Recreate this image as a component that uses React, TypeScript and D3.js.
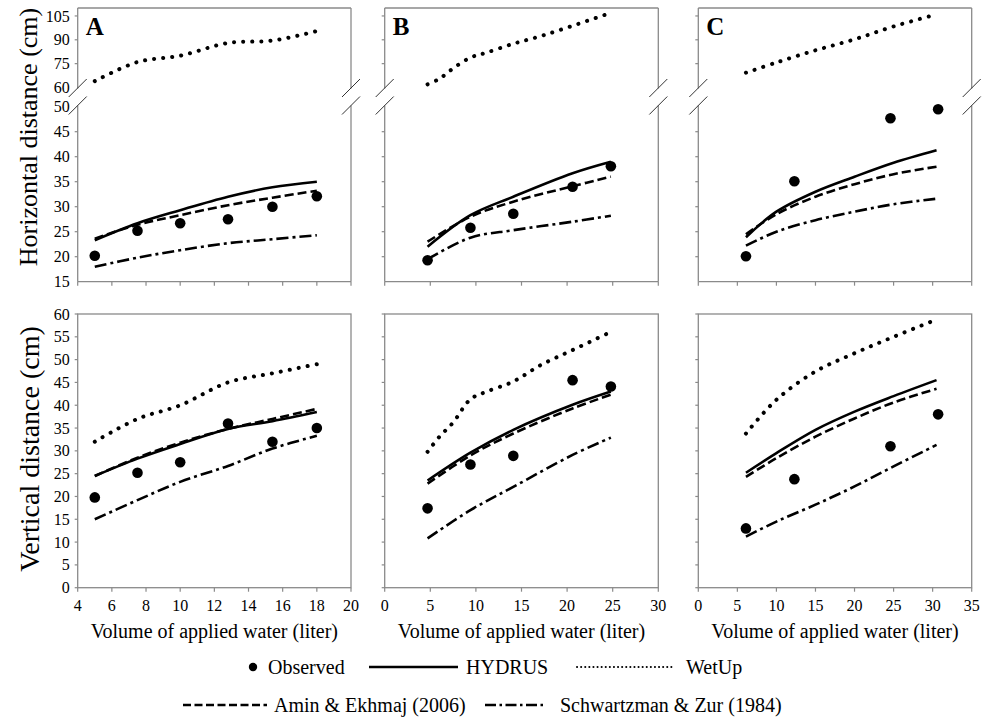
import React from "react";
import * as d3 from "d3";

// values (cm vs litres)
const volA = [5, 7.5, 10, 12.8, 15.4, 18];
const horizObservedA = [20.2, 25.2, 26.7, 27.5, 30, 32.1];
const horizHydrusA = [23.3, 26.7, 29.3, 32, 33.9, 35];
const horizAminA = [23.6, 26.4, 28.3, 30.3, 31.8, 33.2];
const horizSchwartzA = [18, 19.8, 21.3, 22.7, 23.5, 24.3];
const horizWetUpA = [64, 76, 80, 88, 89.5, 95.5];
const vertObservedA = [19.8, 25.2, 27.5, 36, 32, 35];
const vertHydrusA = [24.5, 28.3, 31.5, 34.8, 36.5, 38.5];
const vertAminA = [24.5, 28.5, 31.8, 34.8, 37, 39.2];
const vertSchwartzA = [15, 19.2, 23.2, 26.7, 30.5, 33.3];
const vertWetUpA = [32, 37, 40, 45, 47, 49];

const volB = [4.7, 9.4, 14.1, 20.6, 24.8];
const volWetUpB = [4.7, 6, 7.5, 9.4, 11.2, 14.1, 17.1, 20.6, 24.3];
const horizObservedB = [19.3, 25.8, 28.6, 34, 38.1];
const horizHydrusB = [22, 28.3, 32, 36.7, 39];
const horizAminB = [23, 28, 31, 34.1, 36];
const horizSchwartzB = [19.5, 23.8, 25.3, 27, 28.2];
const horizWetUpB = [62, 65.5, 72, 78.8, 82, 87.5, 92.3, 98.8, 106];
const vertObservedB = [17.4, 27, 28.9, 45.5, 44.1];
const vertHydrusB = [23.5, 29.6, 34.6, 40.1, 43];
const vertAminB = [22.8, 29, 33.8, 39.3, 42.3];
const vertSchwartzB = [10.8, 17, 22.1, 29.1, 32.9];
const vertWetUpB = [29.8, 33.1, 36.2, 41.3, 43, 45.2, 48.8, 52.1, 55.6];

const volObsC = [6.1, 12.3, 24.6, 30.7];
const volModelC = [6.1, 10, 15, 20, 25, 30.5];
const horizObservedC = [20.1, 35.1, 47.7, 49.5];
const horizHydrusC = [23.9, 29, 33, 36, 38.8, 41.3];
const horizAminC = [24.5, 28.5, 32, 34.5, 36.5, 38];
const horizSchwartzC = [22.2, 25, 27.3, 29, 30.5, 31.6];
const horizWetUpC = [69.3, 75.7, 83.4, 90.3, 98.4, 106];
const vertObservedC = [13, 23.8, 31, 38];
const vertHydrusC = [25.2, 29.5, 34.6, 38.6, 42, 45.5];
const vertAminC = [24.3, 28.4, 33.1, 37.1, 40.6, 43.6];
const vertSchwartzC = [11.2, 14.5, 18.2, 22.2, 26.6, 31.3];
const vertWetUpC = [33.8, 41.2, 47.4, 51.4, 55, 58.8];

const upperTicks = [60, 75, 90, 105];
const lowerTicks = [15, 20, 25, 30, 35, 40, 45, 50];
const vertTicks = d3.range(0, 61, 5);

const FONT = "Liberation Serif, Times New Roman, serif";
const FRAME = "#8a8a8a";

const styles = {
  hydrus: { strokeDasharray: "none", strokeWidth: 2.6, strokeLinecap: "butt" },
  amin: { strokeDasharray: "9,4", strokeWidth: 2.6, strokeLinecap: "butt" },
  schwartz: { strokeDasharray: "12,4,3,4", strokeWidth: 2.6, strokeLinecap: "butt" },
  wetup: { strokeDasharray: "0.1,9", strokeWidth: 4, strokeLinecap: "round" },
};

type Series = { xs: number[]; ys: number[]; kind: keyof typeof styles; upper?: boolean };

const panels = [
  {
    letter: "A", x0: 77.7, x1: 351, domain: [4, 20], xticks: d3.range(4, 21, 2),
    obsX: volA, horizObs: horizObservedA, vertObs: vertObservedA,
    horiz: [
      { xs: volA, ys: horizHydrusA, kind: "hydrus" },
      { xs: volA, ys: horizAminA, kind: "amin" },
      { xs: volA, ys: horizSchwartzA, kind: "schwartz" },
      { xs: volA, ys: horizWetUpA, kind: "wetup", upper: true },
    ] as Series[],
    vert: [
      { xs: volA, ys: vertHydrusA, kind: "hydrus" },
      { xs: volA, ys: vertAminA, kind: "amin" },
      { xs: volA, ys: vertSchwartzA, kind: "schwartz" },
      { xs: volA, ys: vertWetUpA, kind: "wetup" },
    ] as Series[],
  },
  {
    letter: "B", x0: 384.7, x1: 658.3, domain: [0, 30], xticks: d3.range(0, 31, 5),
    obsX: volB, horizObs: horizObservedB, vertObs: vertObservedB,
    horiz: [
      { xs: volB, ys: horizHydrusB, kind: "hydrus" },
      { xs: volB, ys: horizAminB, kind: "amin" },
      { xs: volB, ys: horizSchwartzB, kind: "schwartz" },
      { xs: volWetUpB, ys: horizWetUpB, kind: "wetup", upper: true },
    ] as Series[],
    vert: [
      { xs: volB, ys: vertHydrusB, kind: "hydrus" },
      { xs: volB, ys: vertAminB, kind: "amin" },
      { xs: volB, ys: vertSchwartzB, kind: "schwartz" },
      { xs: volWetUpB, ys: vertWetUpB, kind: "wetup" },
    ] as Series[],
  },
  {
    letter: "C", x0: 698.3, x1: 971.7, domain: [0, 35], xticks: d3.range(0, 36, 5),
    obsX: volObsC, horizObs: horizObservedC, vertObs: vertObservedC,
    horiz: [
      { xs: volModelC, ys: horizHydrusC, kind: "hydrus" },
      { xs: volModelC, ys: horizAminC, kind: "amin" },
      { xs: volModelC, ys: horizSchwartzC, kind: "schwartz" },
      { xs: volModelC, ys: horizWetUpC, kind: "wetup", upper: true },
    ] as Series[],
    vert: [
      { xs: volModelC, ys: vertHydrusC, kind: "hydrus" },
      { xs: volModelC, ys: vertAminC, kind: "amin" },
      { xs: volModelC, ys: vertSchwartzC, kind: "schwartz" },
      { xs: volModelC, ys: vertWetUpC, kind: "wetup" },
    ] as Series[],
  },
];

// vertical layout
const TOP = 8, BREAK_UP = 87.5, BREAK_LOW = 106.7, TOP_BOTTOM = 281.7;
const BOT_TOP = 314, BOT_BOTTOM = 587.7;

const yUpper = d3.scaleLinear().domain([60, 110]).range([BREAK_UP, TOP]);
const yLower = d3.scaleLinear().domain([15, 50]).range([TOP_BOTTOM, BREAK_LOW]);
const yVert = d3.scaleLinear().domain([0, 60]).range([BOT_BOTTOM, BOT_TOP]);

const curvePath = (s: Series, x: d3.ScaleLinear<number, number>, y: d3.ScaleLinear<number, number>) =>
  d3.line<number>()
    .x((_, i) => x(s.xs[i]))
    .y((d) => y(d))
    .curve(d3.curveCatmullRom.alpha(0.5))(s.ys) || "";

const SeriesPath = ({ s, x, y }: { s: Series; x: any; y: any }) => {
  const st = styles[s.kind];
  return (
    <path d={curvePath(s, x, y)} fill="none" stroke="#000"
      strokeWidth={st.strokeWidth} strokeDasharray={st.strokeDasharray}
      strokeLinecap={st.strokeLinecap as any} strokeLinejoin="round" />
  );
};

const Slash = ({ cx, cy }: { cx: number; cy: number }) => (
  <line x1={cx - 9} y1={cy + 9} x2={cx + 9} y2={cy - 9} stroke="#333" strokeWidth={1} />
);

const TopPanel = ({ p, labels }: { p: typeof panels[0]; labels: boolean }) => {
  const x = d3.scaleLinear().domain(p.domain).range([p.x0, p.x1]);
  const gapTop = 88.5, gapBot = 105.5;
  return (
    <g>
      <line x1={p.x0} x2={p.x1} y1={TOP} y2={TOP} stroke={FRAME} strokeWidth={1.3} />
      <line x1={p.x0} x2={p.x1} y1={TOP_BOTTOM} y2={TOP_BOTTOM} stroke={FRAME} strokeWidth={1.3} />
      {[p.x0, p.x1].map((xx) => (
        <g key={xx}>
          <line x1={xx} x2={xx} y1={TOP} y2={gapTop} stroke={FRAME} strokeWidth={1.3} />
          <line x1={xx} x2={xx} y1={gapBot} y2={TOP_BOTTOM} stroke={FRAME} strokeWidth={1.3} />
          <Slash cx={xx} cy={88} />
          <Slash cx={xx} cy={105.5} />
        </g>
      ))}
      {upperTicks.filter((t) => t > 60).map((t) => (
        <line key={"u" + t} x1={p.x0 - 3} x2={p.x0} y1={yUpper(t)} y2={yUpper(t)} stroke={FRAME} strokeWidth={1.2} />
      ))}
      {lowerTicks.filter((t) => t > 15 && t < 50).map((t) => (
        <line key={"l" + t} x1={p.x0 - 3} x2={p.x0} y1={yLower(t)} y2={yLower(t)} stroke={FRAME} strokeWidth={1.2} />
      ))}
      {p.xticks.map((t) => (
        <line key={"x" + t} x1={x(t)} x2={x(t)} y1={TOP_BOTTOM} y2={TOP_BOTTOM + 4} stroke={FRAME} strokeWidth={1.2} />
      ))}
      {labels && (
        <g fontFamily={FONT} fontSize={16} textAnchor="end">
          {upperTicks.map((t) => (
            <text key={"ut" + t} x={p.x0 - 8} y={yUpper(t)} dy="0.35em">{t}</text>
          ))}
          {lowerTicks.map((t) => (
            <text key={"lt" + t} x={p.x0 - 8} y={yLower(t)} dy="0.35em">{t}</text>
          ))}
        </g>
      )}
      {p.horiz.map((s, i) => (
        <SeriesPath key={i} s={s} x={x} y={s.upper ? yUpper : yLower} />
      ))}
      {p.obsX.map((v, i) => (
        <circle key={"o" + i} cx={x(v)} cy={yLower(p.horizObs[i])} r={5.3} fill="#000" />
      ))}
      <text x={p.x0 + 8} y={35} fontFamily={FONT} fontSize={25} fontWeight="bold">{p.letter}</text>
    </g>
  );
};

const BottomPanel = ({ p, labels }: { p: typeof panels[0]; labels: boolean }) => {
  const x = d3.scaleLinear().domain(p.domain).range([p.x0, p.x1]);
  return (
    <g>
      <rect x={p.x0} y={BOT_TOP} width={p.x1 - p.x0} height={BOT_BOTTOM - BOT_TOP}
        fill="none" stroke={FRAME} strokeWidth={1.3} />
      {vertTicks.map((t) => (
        <line key={"v" + t} x1={p.x0 - 3} x2={p.x0} y1={yVert(t)} y2={yVert(t)} stroke={FRAME} strokeWidth={1.2} />
      ))}
      {p.xticks.map((t) => (
        <line key={"x" + t} x1={x(t)} x2={x(t)} y1={BOT_BOTTOM} y2={BOT_BOTTOM + 4} stroke={FRAME} strokeWidth={1.2} />
      ))}
      <g fontFamily={FONT} fontSize={16}>
        {labels && vertTicks.map((t) => (
          <text key={"vt" + t} x={p.x0 - 8} y={yVert(t)} dy="0.35em" textAnchor="end">{t}</text>
        ))}
        {p.xticks.map((t) => (
          <text key={"xt" + t} x={x(t)} y={611} textAnchor="middle">{t}</text>
        ))}
      </g>
      {p.vert.map((s, i) => (
        <SeriesPath key={i} s={s} x={x} y={yVert} />
      ))}
      {p.obsX.map((v, i) => (
        <circle key={"o" + i} cx={x(v)} cy={yVert(p.vertObs[i])} r={5.3} fill="#000" />
      ))}
      <text x={(p.x0 + p.x1) / 2} y={638} textAnchor="middle" fontFamily={FONT} fontSize={20}>
        Volume of applied water (liter)
      </text>
    </g>
  );
};

const LegendLine = ({ x1, x2, y, kind }: { x1: number; x2: number; y: number; kind: keyof typeof styles }) => {
  const st = styles[kind];
  const dash = kind === "wetup" ? "0.1,4" : kind === "schwartz" ? "11,3.5,2.5,3.5" : kind === "amin" ? "8,3.5" : "none";
  const w = kind === "wetup" ? 2 : 2.5;
  return (
    <line x1={x1} x2={x2} y1={y} y2={y} stroke="#000" strokeWidth={w}
      strokeDasharray={dash} strokeLinecap={st.strokeLinecap as any} />
  );
};

export default function App() {
  const r1 = 667, r2 = 705;
  return (
    <svg width={993} height={718} style={{ position: "absolute", left: 0, top: 0, background: "#fff" }}>
      {panels.map((p, i) => (
        <g key={p.letter}>
          <TopPanel p={p} labels={i === 0} />
          <BottomPanel p={p} labels={i === 0} />
        </g>
      ))}
      <text transform="translate(37,137) rotate(-90)" textAnchor="middle" fontFamily={FONT} fontSize={26}>
        Horizontal distance (cm)
      </text>
      <text transform="translate(39,449) rotate(-90)" textAnchor="middle" fontFamily={FONT} fontSize={28}>
        Vertical distance (cm)
      </text>
      <g fontFamily={FONT} fontSize={20}>
        <circle cx={253} cy={r1} r={4.2} fill="#000" />
        <text x={268} y={r1 + 7}>Observed</text>
        <LegendLine x1={369} x2={458} y={r1} kind="hydrus" />
        <text x={466} y={r1 + 7}>HYDRUS</text>
        <LegendLine x1={577} x2={674} y={r1} kind="wetup" />
        <text x={686} y={r1 + 7}>WetUp</text>
        <LegendLine x1={183} x2={267} y={r2} kind="amin" />
        <text x={274} y={r2 + 7}>Amin &amp; Ekhmaj (2006)</text>
        <LegendLine x1={485} x2={545} y={r2} kind="schwartz" />
        <text x={560} y={r2 + 7}>Schwartzman &amp; Zur (1984)</text>
      </g>
    </svg>
  );
}
